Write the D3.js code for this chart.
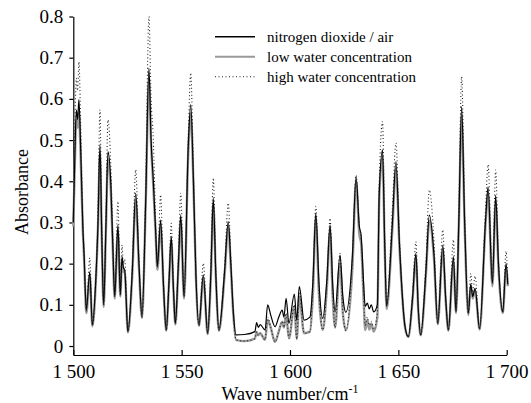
<!DOCTYPE html>
<html>
<head>
<meta charset="utf-8">
<script src="https://cdn.jsdelivr.net/npm/d3@7"></script>
<style>
  body { margin: 0; background: #fff; }
  svg text { font-family: "Liberation Serif", "Times New Roman", serif; fill: #000; }
</style>
</head>
<body>
<div class="chart"></div>
<script>
// wave numbers (cm-1)
let waveNumbers = [
  1500.0, 1500.7, 1501.4, 1502.0, 1502.6, 1503.4, 1504.4, 1505.0, 1506.0, 1507.6,
  1508.8, 1510.3, 1511.4, 1512.3, 1513.1, 1514.0, 1515.1, 1516.0, 1517.3, 1518.2,
  1519.1, 1520.6, 1521.7, 1522.5, 1523.1, 1523.7, 1525.2, 1527.2, 1528.8, 1530.3,
  1531.7, 1533.4, 1534.9, 1535.9, 1536.9, 1538.0, 1538.8, 1540.3, 1541.6, 1542.9,
  1544.2, 1545.2, 1546.2, 1547.1, 1548.5, 1549.6, 1551.1, 1553.1, 1554.2, 1555.4,
  1556.6, 1558.0, 1560.0, 1562.0, 1563.5, 1564.6, 1565.8, 1567.2, 1569.8, 1571.5,
  1572.7, 1573.8, 1575.1, 1579.0, 1583.8, 1584.6, 1585.4, 1586.2, 1588.5, 1589.7,
  1591.1, 1593.1, 1594.8, 1596.4, 1597.2, 1598.2, 1599.5, 1602.0, 1603.1, 1604.3,
  1606.5, 1609.2, 1610.6, 1611.9, 1613.4, 1615.1, 1617.0, 1618.5, 1619.7, 1620.8,
  1623.1, 1624.4, 1625.8, 1628.8, 1630.5, 1632.0, 1632.8, 1634.0, 1634.7, 1635.7,
  1636.6, 1637.5, 1638.6, 1640.3, 1641.2, 1642.7, 1643.7, 1644.6, 1647.2, 1648.9,
  1650.5, 1653.1, 1654.6, 1656.6, 1658.1, 1659.2, 1660.3, 1662.7, 1664.3, 1666.4,
  1668.2, 1670.5, 1671.8, 1673.1, 1675.4, 1676.6, 1677.9, 1679.2, 1680.6, 1682.3,
  1683.4, 1684.3, 1685.4, 1687.5, 1690.3, 1691.4, 1693.4, 1694.9, 1696.2, 1698.2,
  1699.7, 1700.5
];

// nitrogen dioxide / air
let no2Air = [
  0.30, 0.46, 0.573, 0.55, 0.598, 0.48, 0.29, 0.22, 0.087, 0.18,
  0.051, 0.153, 0.30, 0.488, 0.28, 0.10, 0.30, 0.472, 0.396, 0.25,
  0.12, 0.294, 0.124, 0.217, 0.19, 0.185, 0.035, 0.18, 0.371, 0.20,
  0.071, 0.35, 0.675, 0.50, 0.403, 0.28, 0.193, 0.306, 0.15, 0.039,
  0.16, 0.266, 0.14, 0.055, 0.20, 0.318, 0.12, 0.493, 0.586, 0.41,
  0.17, 0.051, 0.173, 0.031, 0.18, 0.359, 0.17, 0.039, 0.18, 0.302,
  0.20, 0.087, 0.027, 0.028, 0.035, 0.057, 0.045, 0.052, 0.039, 0.10,
  0.075, 0.047, 0.07, 0.087, 0.07, 0.116, 0.055, 0.126, 0.063, 0.144,
  0.063, 0.07, 0.16, 0.322, 0.15, 0.067, 0.16, 0.294, 0.15, 0.083,
  0.221, 0.12, 0.082, 0.22, 0.411, 0.29, 0.27, 0.15, 0.096, 0.104,
  0.09, 0.10, 0.083, 0.10, 0.375, 0.476, 0.25, 0.096, 0.294, 0.448,
  0.25, 0.047, 0.023, 0.12, 0.225, 0.09, 0.027, 0.18, 0.318, 0.225,
  0.055, 0.245, 0.12, 0.039, 0.217, 0.083, 0.30, 0.581, 0.30, 0.079,
  0.151, 0.12, 0.14, 0.042, 0.31, 0.386, 0.152, 0.366, 0.20, 0.083,
  0.20, 0.15
];

// low water concentration
let lowWater = [
  0.29, 0.44, 0.55, 0.53, 0.565, 0.46, 0.28, 0.21, 0.08, 0.17,
  0.048, 0.145, 0.29, 0.47, 0.27, 0.095, 0.29, 0.455, 0.38, 0.24,
  0.115, 0.28, 0.12, 0.21, 0.18, 0.18, 0.033, 0.17, 0.355, 0.19,
  0.068, 0.34, 0.65, 0.49, 0.39, 0.27, 0.185, 0.295, 0.145, 0.037,
  0.155, 0.255, 0.135, 0.052, 0.19, 0.305, 0.115, 0.475, 0.565, 0.40,
  0.165, 0.049, 0.165, 0.029, 0.17, 0.345, 0.165, 0.037, 0.17, 0.29,
  0.19, 0.08, 0.015, 0.012, 0.018, 0.034, 0.026, 0.031, 0.015, 0.063,
  0.045, 0.01, 0.035, 0.059, 0.045, 0.075, 0.019, 0.096, 0.017, 0.12,
  0.031, 0.035, 0.13, 0.31, 0.12, 0.039, 0.14, 0.28, 0.12, 0.045,
  0.20, 0.08, 0.038, 0.19, 0.40, 0.27, 0.25, 0.11, 0.039, 0.063,
  0.04, 0.055, 0.035, 0.07, 0.36, 0.46, 0.24, 0.09, 0.28, 0.43,
  0.24, 0.045, 0.022, 0.115, 0.215, 0.085, 0.026, 0.17, 0.305, 0.215,
  0.053, 0.235, 0.115, 0.037, 0.205, 0.08, 0.29, 0.56, 0.29, 0.075,
  0.145, 0.115, 0.135, 0.04, 0.30, 0.37, 0.145, 0.35, 0.19, 0.08,
  0.19, 0.145
];

// high water concentration
let highWater = [
  0.31, 0.52, 0.65, 0.62, 0.69, 0.54, 0.30, 0.22, 0.085, 0.214,
  0.05, 0.15, 0.33, 0.573, 0.30, 0.10, 0.33, 0.549, 0.44, 0.27,
  0.12, 0.351, 0.125, 0.245, 0.20, 0.21, 0.035, 0.19, 0.428, 0.21,
  0.07, 0.38, 0.80, 0.60, 0.505, 0.30, 0.19, 0.367, 0.15, 0.038,
  0.17, 0.298, 0.14, 0.054, 0.22, 0.371, 0.12, 0.52, 0.663, 0.43,
  0.17, 0.05, 0.201, 0.03, 0.20, 0.408, 0.17, 0.038, 0.19, 0.347,
  0.21, 0.085, 0.015, 0.012, 0.018, 0.034, 0.026, 0.031, 0.015, 0.07,
  0.045, 0.01, 0.035, 0.06, 0.045, 0.08, 0.019, 0.10, 0.017, 0.13,
  0.031, 0.035, 0.15, 0.339, 0.13, 0.039, 0.15, 0.31, 0.13, 0.045,
  0.225, 0.08, 0.038, 0.21, 0.415, 0.29, 0.26, 0.12, 0.05, 0.07,
  0.05, 0.06, 0.04, 0.08, 0.40, 0.545, 0.26, 0.10, 0.33, 0.493,
  0.26, 0.046, 0.022, 0.13, 0.253, 0.09, 0.026, 0.20, 0.379, 0.26,
  0.054, 0.282, 0.12, 0.038, 0.258, 0.085, 0.33, 0.654, 0.32, 0.078,
  0.176, 0.13, 0.17, 0.041, 0.34, 0.44, 0.16, 0.427, 0.21, 0.082,
  0.23, 0.16
];

let xTicks = [1500, 1550, 1600, 1650, 1700];
let yTicks = [0, 0.1, 0.2, 0.3, 0.4, 0.5, 0.6, 0.7, 0.8];
let seriesNames = ["nitrogen dioxide / air", "low water concentration", "high water concentration"];

let serif = "'Liberation Serif', 'Times New Roman', serif";

let svgWidth = 531;
let svgHeight = 403;

var svg = d3.select(".chart")
  .append("svg")
  .attr("width", svgWidth)
  .attr("height", svgHeight)
  .attr("font-family", serif);

let xScale = d3.scaleLinear().domain([1500, 1700]).range([73.3, 506.7]);
let yScale = d3.scaleLinear().domain([-0.0218, 0.8]).range([355, 16.5]);

let spaceFormat = d3.formatLocale({ decimal: ".", thousands: " ", grouping: [3], currency: ["", ""] }).format(",");

// x axis, ticks pointing up into the plot
let xAxis = svg.append("g")
  .attr("transform", "translate(0,355)")
  .call(d3.axisBottom(xScale).tickValues(xTicks).tickSizeInner(-5).tickSizeOuter(0)
    .tickPadding(10).tickFormat(spaceFormat));

// y axis
let yAxis = svg.append("g")
  .attr("transform", "translate(73.3,0)")
  .call(d3.axisLeft(yScale).tickValues(yTicks).tickSizeInner(4).tickSizeOuter(0)
    .tickPadding(6).tickFormat(d => d === 0 ? "0" : d3.format(".1f")(d)));

[xAxis, yAxis].forEach(function(ax) {
  ax.attr("font-family", serif).attr("font-size", 19);
  ax.selectAll("path, line").attr("stroke", "#000").attr("stroke-width", 1.2);
  ax.selectAll("text").style("font-size", "19px").style("font-family", serif);
});

let lineFor = function(vals) {
  return d3.line()
    .x((d, i) => xScale(waveNumbers[i]))
    .y(d => yScale(d))
    .curve(d3.curveMonotoneX)(vals);
};

// grey first, black over it, dots on top
svg.append("path")
  .attr("d", lineFor(lowWater))
  .attr("fill", "none")
  .attr("stroke", "#9a9a9a")
  .attr("stroke-width", 2.4);

svg.append("path")
  .attr("d", lineFor(no2Air))
  .attr("fill", "none")
  .attr("stroke", "#000")
  .attr("stroke-width", 1.2);

svg.append("path")
  .attr("d", lineFor(highWater))
  .attr("fill", "none")
  .attr("stroke", "#222")
  .attr("stroke-width", 1.1)
  .attr("stroke-dasharray", "1,2.5");

// legend
let legendStyles = [
  { stroke: "#000", width: 1.5, dash: null },
  { stroke: "#999", width: 2, dash: null },
  { stroke: "#222", width: 1.1, dash: "1,2.5" }
];
let legend = svg.append("g");
seriesNames.forEach(function(name, i) {
  let yPos = 36.7 + i * 20;
  legend.append("line")
    .attr("x1", 215).attr("x2", 255)
    .attr("y1", yPos).attr("y2", yPos)
    .attr("stroke", legendStyles[i].stroke)
    .attr("stroke-width", legendStyles[i].width)
    .attr("stroke-dasharray", legendStyles[i].dash);
  legend.append("text")
    .attr("x", 267)
    .attr("y", yPos + 5)
    .style("font-size", "15px")
    .style("font-family", serif)
    .text(name);
});

// axis titles
svg.append("text")
  .attr("transform", "translate(28,192) rotate(-90)")
  .attr("text-anchor", "middle")
  .style("font-size", "18px")
  .style("font-family", serif)
  .text("Absorbance");

let xTitle = svg.append("text")
  .attr("x", 290)
  .attr("y", 399.5)
  .attr("text-anchor", "middle")
  .style("font-size", "18px")
  .style("font-family", serif);
xTitle.append("tspan").text("Wave number/cm");
xTitle.append("tspan").attr("dy", -7).style("font-size", "12px").text("-1");
</script>
</body>
</html>
